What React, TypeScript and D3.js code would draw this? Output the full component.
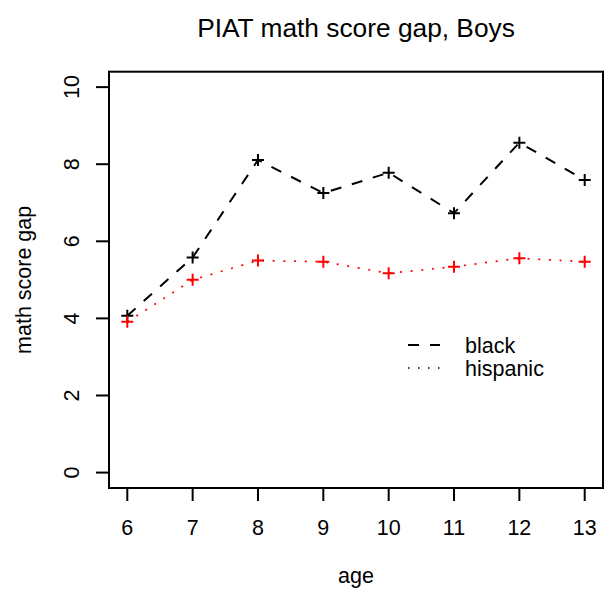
import React from "react";
import * as d3 from "d3";

const ages = [6, 7, 8, 9, 10, 11, 12, 13];
const blackGap = [4.07, 5.58, 8.11, 7.25, 7.78, 6.73, 8.56, 7.59];
const hispanicGap = [3.91, 5.0, 5.5, 5.47, 5.17, 5.34, 5.56, 5.47];
const yTicks = [0, 2, 4, 6, 8, 10];
const legendLabels = ["black", "hispanic"];

const W = 605;
const H = 596;
const left = 109;
const right = 603;
const top = 71.7;
const bottom = 488;
const font = "Liberation Sans, Arial, Helvetica, sans-serif";
const labelSize = 21.5;

export default function App() {
  const x = d3.scaleLinear().domain([5.72, 13.28]).range([left, right]);
  const y = d3.scaleLinear().domain([-0.4, 10.4]).range([bottom, top]);
  const line = d3
    .line<number>()
    .x((_, i) => x(ages[i]))
    .y((d) => y(d));

  const plus = (cx: number, cy: number, color: string, key: string) => (
    <path
      key={key}
      d={`M${cx - 6},${cy}H${cx + 6}M${cx},${cy - 6}V${cy + 6}`}
      stroke={color}
      strokeWidth={2}
      fill="none"
    />
  );

  const series = [
    { values: blackGap, color: "#000", dash: "11,11", width: 2 },
    { values: hispanicGap, color: "#ff0000", dash: "2,8.7", width: 1.7 },
  ];

  return (
    <svg
      width={W}
      height={H}
      style={{ position: "absolute", left: 0, top: 0, background: "#fff" }}
      fontFamily={font}
    >
      <text x={(left + right) / 2} y={37} fontSize={26.3} textAnchor="middle">
        PIAT math score gap, Boys
      </text>

      {series.map((s, i) => (
        <path
          key={"l" + i}
          d={line(s.values) || ""}
          fill="none"
          stroke={s.color}
          strokeWidth={s.width}
          strokeDasharray={s.dash}
        />
      ))}
      {series.map((s, i) =>
        s.values.map((v, j) => plus(x(ages[j]), y(v), s.color, `p${i}-${j}`))
      )}

      <rect
        x={left}
        y={top}
        width={right - left}
        height={bottom - top}
        fill="none"
        stroke="#000"
        strokeWidth={2}
      />

      {ages.map((a) => (
        <g key={"xt" + a}>
          <line x1={x(a)} x2={x(a)} y1={bottom} y2={bottom + 13} stroke="#000" strokeWidth={2} />
          <text x={x(a)} y={535} fontSize={labelSize} textAnchor="middle">
            {a}
          </text>
        </g>
      ))}
      {yTicks.map((t) => (
        <g key={"yt" + t}>
          <line x1={left} x2={left - 13} y1={y(t)} y2={y(t)} stroke="#000" strokeWidth={2} />
          <text
            transform={`translate(71,${y(t)}) rotate(-90)`}
            fontSize={labelSize}
            textAnchor="middle"
            dy="0.355em"
          >
            {t}
          </text>
        </g>
      ))}

      <text x={(left + right) / 2} y={583} fontSize={labelSize} textAnchor="middle">
        age
      </text>
      <text
        transform={`translate(31,${(top + bottom) / 2}) rotate(-90)`}
        fontSize={labelSize}
        textAnchor="middle"
      >
        math score gap
      </text>

      {legendLabels.map((lab, i) => (
        <g key={"lg" + i}>
          <line
            x1={408}
            x2={440}
            y1={345 + i * 23}
            y2={345 + i * 23}
            stroke="#000"
            strokeWidth={i === 0 ? 2 : 1.5}
            strokeDasharray={i === 0 ? "11,11" : "1.5,8.5"}
          />
          <text x={465} y={353 + i * 22.5} fontSize={labelSize}>
            {lab}
          </text>
        </g>
      ))}
    </svg>
  );
}
